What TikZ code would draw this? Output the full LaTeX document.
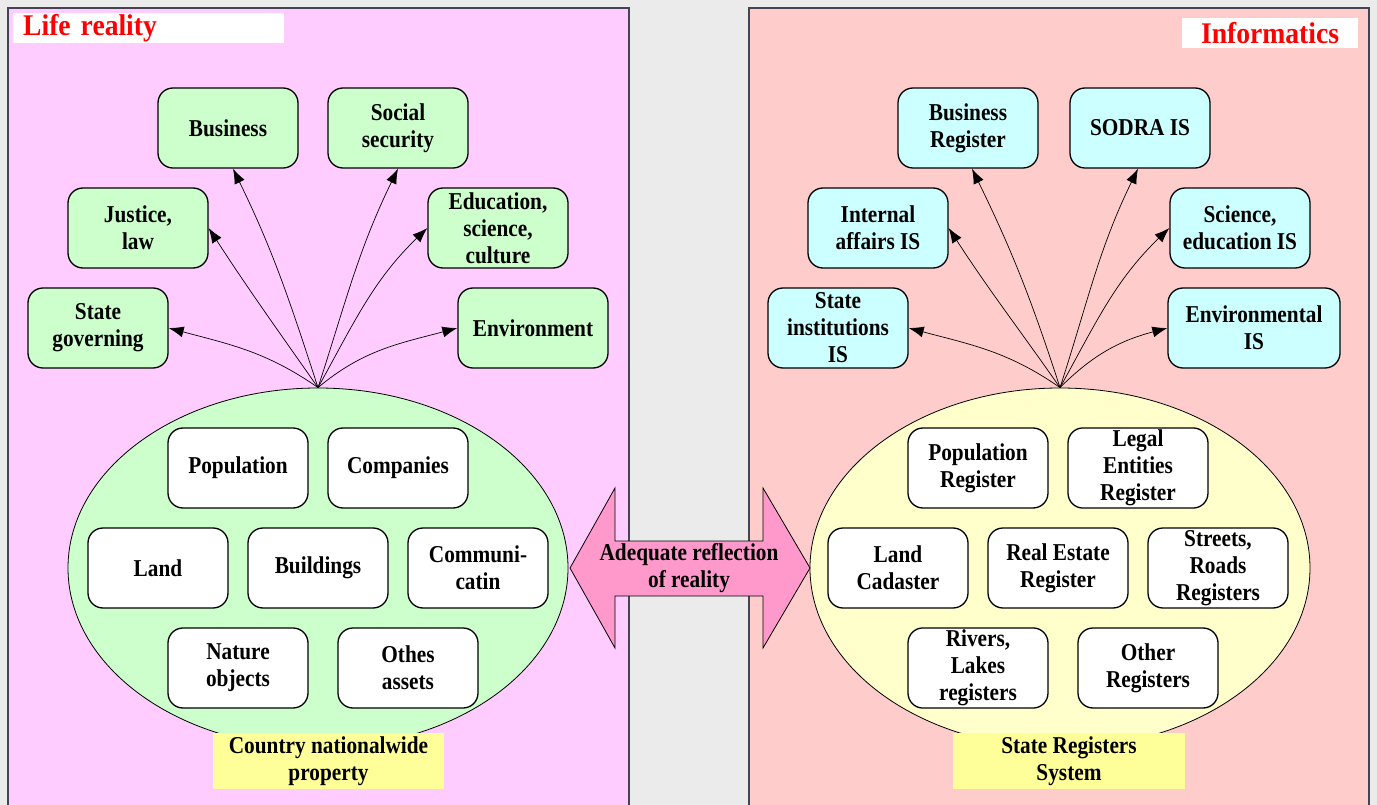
\documentclass[tikz,border=0pt]{standalone}
\usepackage{fontspec}
\setmainfont{Liberation Serif}[FakeStretch=0.88]
\newfontfamily\titlefont{Liberation Serif}[FakeStretch=0.92]
\usetikzlibrary{shapes.geometric,arrows.meta}
\definecolor{bggray}{HTML}{EBEBEB}
\definecolor{lpanel}{HTML}{FFCCFF}
\definecolor{rpanel}{HTML}{FFCCCC}
\definecolor{gfill}{HTML}{CCFFCC}
\definecolor{cfill}{HTML}{CCFFFF}
\definecolor{yell}{HTML}{FFFFCC}
\definecolor{ylab}{HTML}{FFFF99}
\definecolor{pinkar}{HTML}{FF99CC}
\definecolor{panelborder}{HTML}{444455}
\tikzset{
  txt/.style={font=\fontsize{24.2}{27}\selectfont\bfseries, align=center},
  rbox/.style={txt, draw=black, line width=1.3pt, rounded corners=15pt, minimum width=140pt, minimum height=80pt, inner sep=2pt},
  gbox/.style={rbox, fill=gfill},
  cbox/.style={rbox, fill=cfill},
  wbox/.style={rbox, fill=white},
  ylabel/.style={txt, fill=ylab, minimum height=56pt, inner sep=0pt},
  conn/.style={line width=0.7pt, -{Latex[length=15pt,width=11pt]}},
  titletxt/.style={font=\titlefont\fontsize{30}{34}\selectfont\bfseries, text=red}
}
\begin{document}
\begin{tikzpicture}[x=1pt,y=1pt]
\useasboundingbox (0,0) rectangle (1377,-805);
\fill[bggray] (0,0) rectangle (1377,-805);
% panels
\draw[panelborder, line width=1.5pt, fill=lpanel] (8,-830) -- (8,-8) -- (629,-8) -- (629,-830);
\draw[panelborder, line width=1.5pt, fill=rpanel] (749,-830) -- (749,-8) -- (1369,-8) -- (1369,-830);
% titles
\node[titletxt, fill=white, anchor=north west, minimum height=30pt, text width=251pt, inner xsep=10pt, inner ysep=0pt, align=left] (lt) at (13,-13) {Life reality};
\node[titletxt, fill=white, minimum width=176pt, minimum height=30pt, inner sep=0pt] (rt) at (1270,-33) {Informatics};

% ---------- left side ----------
\node[draw=black, line width=0.8pt, ellipse, fill=gfill, minimum width=500pt, minimum height=360pt, inner sep=0pt] (lell) at (318,-568) {};
\node[gbox] (business) at (228,-128) {Business};
\node[gbox] (social) at (398,-128) {Social\\security};
\node[gbox] (justice) at (138,-228) {Justice,\\law};
\node[gbox] (edu) at (498,-228) {Education,\\science,\\culture};
\node[gbox] (stategov) at (98,-328) {State\\governing};
\node[gbox, minimum width=150pt] (env) at (533,-328) {Environment};

\node[wbox] (population) at (238,-468) {Population};
\node[wbox] (companies) at (398,-468) {Companies};
\node[wbox] (land) at (158,-568) {Land};
\node[wbox] (buildings) at (318,-568) {Buildings};
\node[wbox] (commun) at (478,-568) {Communi-\\catin};
\node[wbox] (nature) at (238,-668) {Nature\\objects};
\node[wbox] (othes) at (408,-668) {Othes\\assets};

\node[ylabel, minimum width=231pt] (lprop) at (328.5,-761) {Country nationalwide\\property};

\draw[conn] (lell.north) to[out=108,in=-64] ([xshift=5pt]business.south);
\draw[conn] (lell.north) to[out=72,in=-116] (social.south);
\draw[conn] (lell.north) to[out=125,in=-57] (justice.east);
\draw[conn] (lell.north) to[out=61,in=224] (edu.west);
\draw[conn] (lell.north) to[out=145,in=-15] (stategov.east);
\draw[conn] (lell.north) to[out=40,in=195] (env.west);

% ---------- right side ----------
\node[draw=black, line width=0.8pt, ellipse, fill=yell, minimum width=500pt, minimum height=360pt, inner sep=0pt] (rell) at (1060,-568) {};
\node[cbox] (bizreg) at (968,-128) {Business\\Register};
\node[cbox] (sodra) at (1140,-128) {SODRA IS};
\node[cbox] (internal) at (878,-228) {Internal\\affairs IS};
\node[cbox] (scied) at (1240,-228) {Science,\\education IS};
\node[cbox] (stinst) at (838,-328) {State\\institutions\\IS};
\node[cbox, minimum width=172pt] (envis) at (1254,-328) {Environmental\\IS};

\node[wbox] (popreg) at (978,-468) {Population\\Register};
\node[wbox] (legal) at (1138,-468) {Legal\\Entities\\Register};
\node[wbox] (landcad) at (898,-568) {Land\\Cadaster};
\node[wbox] (realest) at (1058,-568) {Real Estate\\Register};
\node[wbox] (streets) at (1218,-568) {Streets,\\Roads\\Registers};
\node[wbox] (rivers) at (978,-668) {Rivers,\\Lakes\\registers};
\node[wbox] (otherreg) at (1148,-668) {Other\\Registers};

\node[ylabel, minimum width=232pt] (rsys) at (1069,-761) {State Registers\\System};

\draw[conn] (rell.north) to[out=108,in=-64] ([xshift=4pt]bizreg.south);
\draw[conn] (rell.north) to[out=72,in=-116] ([xshift=-2pt]sodra.south);
\draw[conn] (rell.north) to[out=125,in=-57] (internal.east);
\draw[conn] (rell.north) to[out=61,in=224] (scied.west);
\draw[conn] (rell.north) to[out=145,in=-15] (stinst.east);
\draw[conn] (rell.north) to[out=45,in=195] (envis.west);

% ---------- middle double arrow ----------
\draw[black, line width=0.8pt, fill=pinkar]
  (570,-568) -- (615,-488) -- (615,-541) -- (763,-541) -- (763,-488) -- (810,-568)
  -- (763,-648) -- (763,-596) -- (615,-596) -- (615,-648) -- cycle;
\node[txt] (reflect) at (689,-568) {Adequate reflection\\of reality};
\end{tikzpicture}
\end{document}
